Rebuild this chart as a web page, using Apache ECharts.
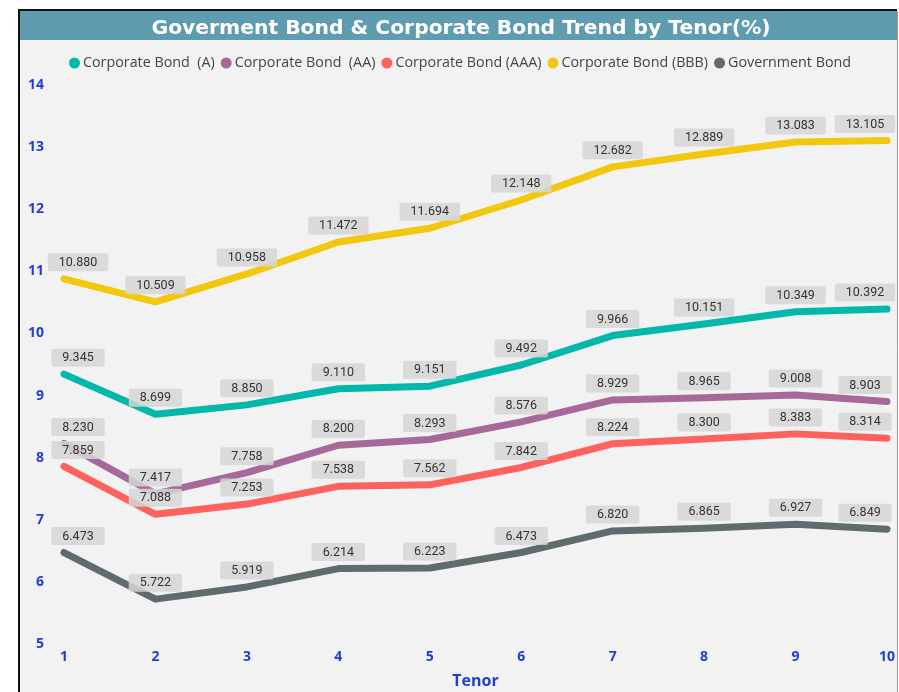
<!DOCTYPE html>
<html>
<head>
<meta charset="utf-8">
<script src="https://cdn.jsdelivr.net/npm/echarts@6/dist/echarts.min.js"></script>
<style>
  html, body { margin: 0; padding: 0; background: #ffffff; overflow: hidden; }
  #chart { width: 899px; height: 692px; }
</style>
</head>
<body>
<div id="chart"></div>
<script>
// Tenor categories (years)
const tenors = ['1', '2', '3', '4', '5', '6', '7', '8', '9', '10'];

// Yields by tenor (%)
const corpA   = [9.345, 8.699, 8.850, 9.110, 9.151, 9.492, 9.966, 10.151, 10.349, 10.392];
const corpAA  = [8.230, 7.417, 7.758, 8.200, 8.293, 8.576, 8.929, 8.965, 9.008, 8.903];
const corpAAA = [7.859, 7.088, 7.253, 7.538, 7.562, 7.842, 8.224, 8.300, 8.383, 8.314];
const corpBBB = [10.880, 10.509, 10.958, 11.472, 11.694, 12.148, 12.682, 12.889, 13.083, 13.105];
const govBond = [6.473, 5.722, 5.919, 6.214, 6.223, 6.473, 6.820, 6.865, 6.927, 6.849];

const seriesNames = ['Corporate Bond  (A)', 'Corporate Bond  (AA)', 'Corporate Bond (AAA)', 'Corporate Bond (BBB)', 'Government Bond'];
const seriesData = [corpA, corpAA, corpAAA, corpBBB, govBond];
const seriesColors = ['#01B8AA', '#A66999', '#FD625E', '#F2C80F', '#5F6B6D'];

const chart = echarts.init(document.getElementById('chart'), null, {
  renderer: 'canvas', width: 899, height: 692
});

const labelFont = 'Roboto, "DejaVu Sans", sans-serif';
const uiFont = '"Open Sans", "DejaVu Sans", sans-serif';

const series = seriesNames.map((name, k) => ({
  name: name,
  type: 'line',
  data: seriesData[k],
  symbol: 'circle',
  symbolSize: 5,
  showSymbol: true,
  lineStyle: { width: 7, color: seriesColors[k], cap: 'round', join: 'round' },
  itemStyle: { color: seriesColors[k] },
  z: 2 + k,
  label: {
    show: true,
    position: 'top',
    distance: 5,
    formatter: p => p.value.toFixed(3),
    color: '#333333',
    fontSize: 12.5,
    fontFamily: labelFont,
    backgroundColor: 'rgba(214,214,214,0.85)',
    padding: [3, 11, 2, 11],
    borderRadius: 2
  },
  // nudge the first and last labels so they stay inside the plot
  labelLayout: function (params) {
    const last = seriesData[k].length - 1;
    if (params.dataIndex === 0) return { dx: 14 };
    if (params.dataIndex === last) return { dx: -22 };
    return {};
  },
  emphasis: { disabled: true }
}));

chart.setOption({
  animation: false,
  backgroundColor: '#ffffff',
  graphic: [
    // panel background with frame
    { type: 'rect', z: -10, silent: true,
      shape: { x: 19, y: 9, width: 878, height: 690 },
      style: { fill: '#f2f2f2', stroke: null } },
    { type: 'rect', z: -9, silent: true,
      shape: { x: 20, y: 11, width: 877, height: 29 },
      style: { fill: '#5f9cb0' } },
    { type: 'line', z: -8, silent: true,
      shape: { x1: 18, y1: 10, x2: 897, y2: 10 },
      style: { stroke: '#111111', lineWidth: 2 } },
    { type: 'line', z: -8, silent: true,
      shape: { x1: 19, y1: 9, x2: 19, y2: 692 },
      style: { stroke: '#111111', lineWidth: 2 } },
    { type: 'line', z: -8, silent: true,
      shape: { x1: 897.5, y1: 11, x2: 897.5, y2: 692 },
      style: { stroke: '#9a9a9a', lineWidth: 1 } }
  ],
  title: {
    text: 'Goverment Bond & Corporate Bond Trend by Tenor(%)',
    left: 456,
    textAlign: 'center',
    top: 14,
    textStyle: {
      color: '#ffffff',
      fontSize: 20.3,
      fontWeight: 'bold',
      fontFamily: '"DejaVu Sans", sans-serif'
    }
  },
  legend: {
    top: 51,
    left: 64,
    itemGap: 6,
    itemWidth: 11,
    itemHeight: 11,
    icon: 'circle',
    textStyle: {
      color: '#444444',
      fontSize: 14.3,
      fontFamily: uiFont,
      padding: [0, 0, 0, -2]
    },
    data: seriesNames
  },
  grid: {
    left: 64,
    right: 12,
    top: 85,
    bottom: 48,
    containLabel: false,
    outerBoundsMode: 'none'
  },
  xAxis: {
    type: 'category',
    data: tenors,
    boundaryGap: false,
    name: 'Tenor',
    nameLocation: 'middle',
    nameGap: 29,
    nameTextStyle: {
      color: '#1f3fd0',
      fontSize: 16,
      fontWeight: 'bold',
      fontFamily: uiFont
    },
    axisLine: { show: false },
    axisTick: { show: false },
    axisLabel: {
      margin: 6,
      color: '#1f3fd0',
      fontSize: 14,
      fontWeight: 'bold',
      fontFamily: uiFont
    },
    splitLine: { show: false }
  },
  yAxis: {
    type: 'value',
    min: 5,
    max: 14,
    interval: 1,
    axisLine: { show: false },
    axisTick: { show: false },
    axisLabel: {
      margin: 20,
      color: '#1f3fd0',
      fontSize: 14,
      fontWeight: 'bold',
      fontFamily: uiFont
    },
    splitLine: { show: false }
  },
  series: series
});
</script>
</body>
</html>
